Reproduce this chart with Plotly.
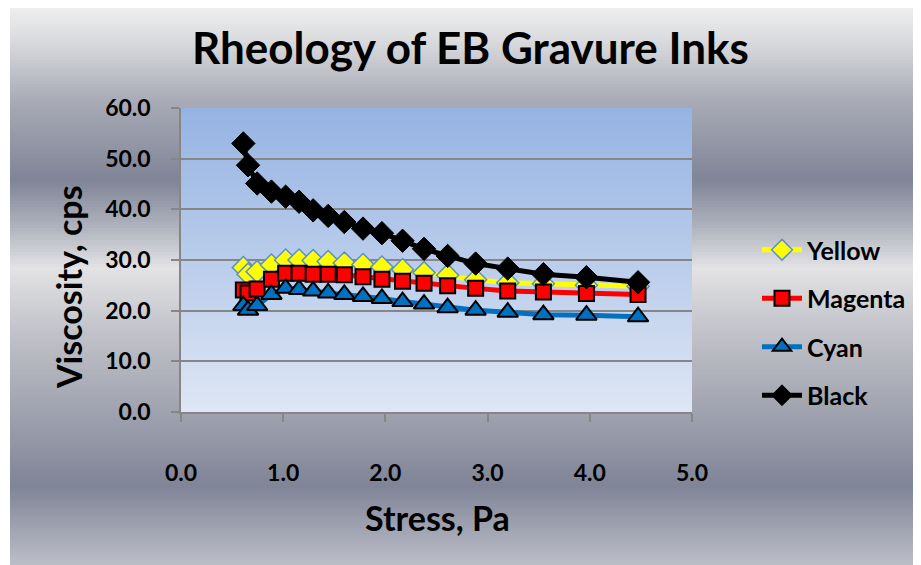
import plotly.graph_objects as go

# ---------------- data ----------------
stress = [0.61, 0.656, 0.745, 0.885, 1.024, 1.155, 1.293, 1.44, 1.598, 1.781,
          1.966, 2.168, 2.378, 2.609, 2.883, 3.197, 3.546, 3.967, 4.472]
yellow = [28.5, 27.2, 27.7, 29.0, 30.0, 30.0, 29.9, 29.7, 29.4, 29.1,
          28.6, 28.1, 27.5, 27.0, 26.1, 25.5, 25.3, 25.0, 24.8]
magenta = [24.1, 23.5, 24.3, 26.2, 27.4, 27.4, 27.2, 27.2, 27.1, 26.7,
           26.2, 25.8, 25.4, 24.9, 24.4, 23.9, 23.7, 23.4, 23.2]
cyan = [21.0, 20.1, 21.0, 23.2, 24.4, 24.2, 23.9, 23.5, 23.2, 22.8,
        22.4, 21.8, 21.3, 20.6, 20.1, 19.7, 19.2, 19.1, 18.8]
black = [53.0, 48.7, 45.1, 43.5, 42.5, 41.5, 39.8, 38.7, 37.5, 36.2,
         35.3, 33.8, 32.2, 30.8, 29.3, 28.3, 27.2, 26.6, 25.6]

x_ticks = [0, 1, 2, 3, 4, 5]
y_ticks = [0, 10, 20, 30, 40, 50, 60]

# ---------------- layout geometry ----------------
W, H = 921, 565
OFF = 8  # page body margin shifts the figure by 8 px
L, T = 181 - OFF, 108 - OFF
PR, PB = 692 - OFF, 412 - OFF
R, B = W - PR, H - PB
PW, PH = PR - L, PB - T
FONT = "Lato"


def px_x(px):
    return (px - OFF - L) / PW


def px_y(py):
    return (PB - (py - OFF)) / PH


def hex2rgb(h):
    h = h.lstrip("#")
    return [int(h[i:i + 2], 16) for i in (0, 2, 4)]


def interp(stops, y):
    for (y0, c0), (y1, c1) in zip(stops, stops[1:]):
        if y0 <= y <= y1:
            t = (y - y0) / (y1 - y0) if y1 > y0 else 0
            a, b = hex2rgb(c0), hex2rgb(c1)
            return "rgb(%d,%d,%d)" % tuple(round(a[i] + (b[i] - a[i]) * t) for i in range(3))
    return stops[-1][1]


bg_stops = [(0, "#f3f3f3"), (40, "#dadbde"), (100, "#a9acb6"), (180, "#7f8497"),
            (230, "#b3b6c0"), (268, "#e3e3e5"), (330, "#c2c3ca"), (420, "#9c9fac"),
            (486, "#7f8497"), (575, "#c4c6ce")]
plot_stops = [(108, "#95b3e2"), (412, "#dee6f4")]

shapes = []
step = 3
for y in range(0, 575, step):
    shapes.append(dict(type="rect", xref="paper", yref="paper", layer="below",
                       x0=px_x(10), x1=px_x(W + 10), y0=px_y(y + step + 0.5), y1=px_y(y),
                       fillcolor=interp(bg_stops, y + step / 2), line=dict(width=0)))
for y in range(108, 412, step):
    shapes.append(dict(type="rect", xref="paper", yref="paper", layer="below",
                       x0=0, x1=1, y0=max(0, px_y(y + step + 0.5)), y1=min(1, px_y(y)),
                       fillcolor=interp(plot_stops, y + step / 2), line=dict(width=0)))

fig = go.Figure()

series = [
    ("Yellow", yellow, "#ffff00", dict(symbol="diamond", size=17, color="#ffff00",
                                       line=dict(color="#5b8fd0", width=1.5))),
    ("Magenta", magenta, "#ff0000", dict(symbol="square", size=15, color="#ff0000",
                                         line=dict(color="#000000", width=2))),
    ("Cyan", cyan, "#0070c0", dict(symbol="triangle-up", size=18, color="#0070c0",
                                   line=dict(color="#000000", width=2))),
    ("Black", black, "#000000", dict(symbol="diamond", size=18, color="#000000",
                                     line=dict(color="#000000", width=1))),
]
for i, (name, vals, col, mk) in enumerate(series):
    fig.add_trace(go.Scatter(x=stress, y=vals, name=name, mode="lines+markers",
                             line=dict(color=col, width=5), marker=mk,
                             legendgroup=str(i)))

axis_font = dict(family=FONT, size=23, color="#000000", weight="bold")

fig.update_layout(
    width=W, height=H,
    margin=dict(l=L, r=R, t=T, b=B, pad=0),
    paper_bgcolor="#ffffff",
    plot_bgcolor="rgba(0,0,0,0)",
    shapes=shapes,
    showlegend=True,
    legend=dict(x=px_x(757), y=px_y(227), xanchor="left", yanchor="top",
                font=dict(family=FONT, size=25, color="#000000", weight="bold"),
                tracegroupgap=13, bgcolor="rgba(0,0,0,0)", itemwidth=40),
    xaxis=dict(range=[0, 5], tickvals=x_ticks, tickformat=".1f",
               showgrid=False, zeroline=False, showline=True,
               linecolor="#868686", linewidth=1.5,
               ticks="outside", ticklen=8, tickcolor="#868686", tickwidth=1.5,
               tickfont=axis_font, ticklabelstandoff=32),
    yaxis=dict(range=[0, 60], tickvals=y_ticks, tickformat=".1f",
               showgrid=True, gridcolor="#868686", gridwidth=1.5, zeroline=False,
               showline=True, linecolor="#868686", linewidth=1.5,
               ticks="outside", ticklen=8, tickcolor="#868686", tickwidth=1.5,
               tickfont=axis_font, ticklabelstandoff=16),
    annotations=[
        dict(text="Rheology of EB Gravure Inks", xref="paper", yref="paper",
             x=px_x(470), y=px_y(47), xanchor="center", yanchor="middle",
             showarrow=False, font=dict(family=FONT, size=44, color="#000000", weight="bold")),
        dict(text="Viscosity, cps", xref="paper", yref="paper",
             x=px_x(68), y=px_y(287), xanchor="center", yanchor="middle", textangle=-90,
             showarrow=False, font=dict(family=FONT, size=34, color="#000000", weight="bold")),
        dict(text="Stress, Pa", xref="paper", yref="paper",
             x=px_x(437), y=px_y(517), xanchor="center", yanchor="middle",
             showarrow=False, font=dict(family=FONT, size=34, color="#000000", weight="bold")),
    ],
)

fig.write_html("out.html")
